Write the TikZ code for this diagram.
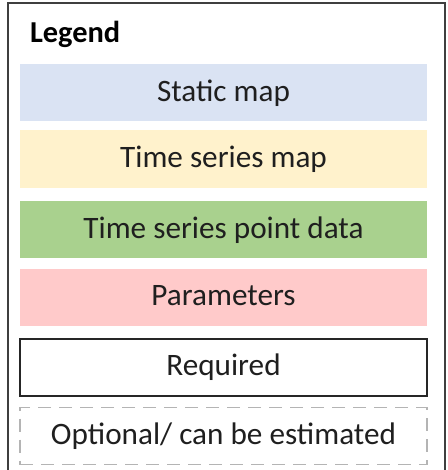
\documentclass[tikz,border=0pt]{standalone}
\usepackage{fontspec}
\setmainfont{Carlito}
\definecolor{staticblue}{HTML}{DAE3F3}
\definecolor{seriesyellow}{HTML}{FFF2CC}
\definecolor{pointgreen}{HTML}{A9D18E}
\definecolor{parampink}{HTML}{FFCACA}
\definecolor{framegray}{HTML}{3F3F3F}
\definecolor{dashgray}{HTML}{B4B4B4}
\tikzset{
  legbox/.style={shape=rectangle,minimum width=203.5pt,minimum height=28.5pt,
    inner sep=0pt,outer sep=0pt,font=\fontsize{15.6}{18}\selectfont,
    text height=0.88em,text depth=0pt,text=black!88},
  reqbox/.style={legbox,draw=black!85,line width=1pt},
  optbox/.style={legbox,draw=dashgray,line width=0.7pt,dash pattern=on 6.5pt off 4pt}
}
\begin{document}
\begin{tikzpicture}[x=0.5pt,y=-0.5pt]
                \useasboundingbox (0,0) rectangle (448,470);
                \draw[framegray,line width=1.3pt] (8,475) -- (8,3) -- (445,3) -- (445,475);

                \node[anchor=base west,font=\fontsize{15.2}{18}\bfseries\selectfont] (title) at (23,43) {Legend};

                \node[legbox,fill=staticblue] (static) at (223.5,92.5) {Static map};
                \node[legbox,fill=seriesyellow] (series) at (223.5,159) {Time series map};
                \node[legbox,fill=pointgreen] (point) at (223.5,229.5) {Time series point data};
                \node[legbox,fill=parampink] (param) at (223.5,297) {Parameters};
                \node[reqbox] (req) at (223.5,367) {Required};
                \node[optbox] (opt) at (223.5,436) {Optional/ can be estimated};
            \end{tikzpicture}
\end{document}
